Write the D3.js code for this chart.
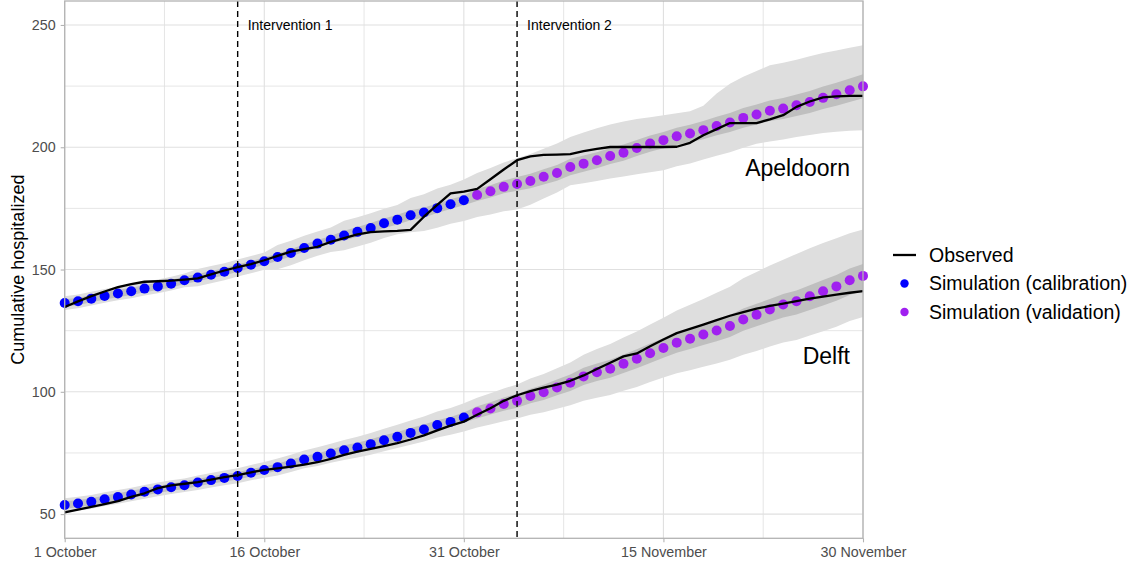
<!DOCTYPE html>
<html>
<head>
<meta charset="utf-8">
<script src="https://cdn.jsdelivr.net/npm/d3@7"></script>
<style>
  body { margin: 0; background: #fff; }
  svg text { font-family: "Liberation Sans", Arial, Helvetica, sans-serif; }
</style>
</head>
<body>
<svg id="chart" width="1141" height="567"></svg>
<script>
// ---- Data: daily values, 1 October .. 30 November 2020 ----
const firstDay = new Date(2020, 9, 1);
const lastDay = new Date(2020, 10, 30);
const calibrationEnd = new Date(2020, 9, 31);
const interventions = [
  { date: new Date(2020, 9, 14), label: "Intervention 1" },
  { date: new Date(2020, 10, 4), label: "Intervention 2" }
];
const xTickDates = [new Date(2020, 9, 1), new Date(2020, 9, 16), new Date(2020, 9, 31), new Date(2020, 10, 15), new Date(2020, 10, 30)];
const xTickLabels = ["1 October", "16 October", "31 October", "15 November", "30 November"];
const yTicks = [50, 100, 150, 200, 250];
const yMinorTicks = [75, 125, 175, 225];
const yDomain = [40.1, 259.8];

// Apeldoorn
const apeldoornObserved = [134.7, 137, 139.1, 141, 142.8, 144, 145, 145.2, 145.5, 145.9,
  146.4, 148, 149.6, 151, 152.2, 153.8, 155.6, 157.3, 158.3, 159.3,
  161.3, 162.8, 164.4, 165.3, 165.6, 165.8, 166.2, 171.6, 176.4, 181.1,
  181.9, 183, 186.9, 190.9, 194.7, 196.3, 196.9, 197, 197.2, 198.4,
  199.3, 200.1, 200.1, 200.1, 200.1, 200.1, 200.2, 201.8, 204.9, 207.4,
  209.9, 209.9, 209.9, 211.4, 213.1, 216.5, 218.7, 220.4, 220.8, 221, 221];
const apeldoornSim = [136.3, 137, 138.1, 139.2, 140.2, 141.1, 142.2, 143.1, 144.2, 145.6,
  146.7, 147.9, 149.1, 150.6, 152, 153.4, 155.1, 156.8, 158.8, 160.6,
  162.2, 163.9, 165.4, 167, 168.9, 170.4, 172.2, 173.3, 175.1, 176.7,
  178.3, 180.5, 182, 183.8, 185, 186.2, 187.9, 189.5, 191.9, 193.3,
  194.7, 196.4, 197.8, 199.7, 201.5, 202.9, 204.5, 205.6, 207, 208.7,
  210.1, 212, 213.4, 214.9, 215.8, 217.2, 218.5, 220.2, 221.7, 223.3, 224.9];
const apeldoornOuterHi = [139.1, 139.8, 140.9, 142, 143, 143.9, 145, 145.9, 147, 148.4,
  150.2, 151.4, 152.6, 154.1, 155.5, 157, 160, 161.8, 163.8, 165.6,
  167.2, 169.9, 171.4, 173, 174.9, 176.4, 179.2, 180.8, 183.1, 184.7,
  186.8, 189.5, 191.5, 193.8, 195.5, 197.2, 199.4, 201.5, 204.2, 206,
  207.8, 209.3, 210.5, 211.5, 212.3, 213.1, 213.9, 214.7, 217, 222,
  226, 228.8, 231.2, 233.5, 234.6, 235.8, 237.2, 238.5, 239.6, 240.7, 241.7];
const apeldoornOuterLo = [133.5, 134.2, 135.3, 136.4, 137.4, 138.3, 139.4, 140.3, 141.4, 142.8,
  143.2, 144.4, 145.6, 147.1, 148.5, 149.9, 150.1, 151.8, 153.8, 155.6,
  157.2, 157.9, 159.4, 161, 162.9, 164.4, 165.2, 165.8, 167.1, 168.7,
  169.8, 171.5, 172.5, 173.8, 174.5, 176.5, 179, 181.5, 184.5, 185.3,
  186.2, 187.2, 188, 189, 189.8, 190.6, 192.2, 193.4, 195, 196.5,
  198, 199.8, 201.4, 202.4, 203.2, 204.2, 205, 205.8, 206.3, 206.7, 207];
const apeldoornInnerHi = [137.8, 138.5, 139.6, 140.7, 141.7, 142.6, 143.7, 144.6, 145.7, 147.1,
  148.2, 149.4, 150.6, 152.1, 153.5, 154.9, 156.6, 158.3, 160.3, 162.1,
  163.7, 165.9, 167.4, 169, 170.9, 172.4, 174.2, 175.3, 177.1, 178.7,
  180.3, 183, 184.5, 186.4, 187.8, 189.2, 191, 192.7, 195.3, 196.6,
  198, 199.7, 201.1, 203, 204.8, 206.2, 208, 209.2, 210.7, 212.5,
  214, 216, 217.5, 219.1, 220.1, 221.6, 223, 224.8, 226.4, 228.1, 229.8];
const apeldoornInnerLo = [134.8, 135.5, 136.6, 137.7, 138.7, 139.6, 140.7, 141.6, 142.7, 144.1,
  145.2, 146.4, 147.6, 149.1, 150.5, 151.9, 153.6, 155.3, 157.3, 159.1,
  160.7, 161.9, 163.4, 165, 166.9, 168.4, 170.2, 171.3, 173.1, 174.7,
  176.3, 178, 179.5, 181.2, 182.2, 183.2, 184.8, 186.3, 188.5, 190,
  191.4, 193.1, 194.5, 196.4, 198.2, 199.6, 201, 202, 203.3, 204.9,
  206.2, 208, 209.3, 210.7, 211.5, 212.8, 214, 215.6, 217, 218.5, 220];

// Delft
const delftObserved = [50.7, 51.8, 52.9, 54.1, 55.3, 57, 58.5, 60.6, 61.7, 62.4,
  63.1, 64.1, 65.1, 65.9, 67.1, 68.1, 68.7, 69.4, 70.2, 71.2,
  72.6, 74.2, 75.5, 76.7, 77.8, 79, 80.5, 82.2, 84.2, 86.2,
  87.8, 90.6, 93.3, 96.3, 98.6, 100.3, 101.7, 102.9, 104.5, 106.7,
  109.3, 111.9, 114.5, 115.7, 118.6, 121.4, 124, 125.7, 127.5, 129.3,
  131.1, 132.6, 134, 135.1, 136.1, 137.1, 138.1, 138.9, 139.7, 140.5, 141.2];
const delftSim = [53.7, 54.3, 55, 56.1, 57, 58, 59.1, 60.1, 61, 61.8,
  62.9, 63.9, 64.8, 65.6, 66.9, 68, 69.2, 70.7, 72.3, 73.4,
  74.8, 76.1, 77.2, 78.6, 80.2, 81.6, 83.2, 84.6, 86.4, 87.7,
  89.5, 91.6, 93.2, 95, 96.3, 98.3, 99.8, 101.8, 103.7, 106.3,
  108, 109.4, 111.5, 113.5, 115.8, 117.9, 120.1, 121.7, 123.4, 125.1,
  126.9, 129.6, 131.5, 133.7, 135.7, 137, 139.1, 141.1, 143.1, 145.6, 147.4];
const delftOuterHi = [56.5, 57.1, 57.8, 58.9, 59.8, 60.8, 61.9, 62.9, 63.8, 64.6,
  65.8, 66.8, 67.8, 68.7, 70.1, 71.3, 72.7, 74.3, 76, 77.3,
  78.8, 80.3, 81.6, 83.2, 84.9, 86.5, 88.3, 89.9, 91.9, 93.4,
  95.3, 97.6, 99.4, 101.4, 103, 105.4, 107.3, 109.6, 112, 115.2,
  117.5, 119.5, 122.2, 124.7, 127.5, 130.3, 133.2, 135.6, 138, 140.5,
  143, 146.4, 149, 151.6, 154, 156.4, 158.7, 160.8, 162.8, 164.8, 166.4];
const delftOuterLo = [50.9, 51.5, 52.2, 53.3, 54.2, 55.2, 56.3, 57.3, 58.2, 59,
  59.9, 60.9, 61.8, 62.6, 63.8, 64.9, 65.8, 67.2, 68.7, 69.7,
  71, 72.1, 73.1, 74.3, 75.7, 77, 78.4, 79.7, 81.3, 82.4,
  83.8, 85.4, 86.6, 88, 89.1, 90.6, 91.6, 93.1, 94.5, 96.3,
  97.6, 98.7, 100.4, 102, 104, 105.9, 107.6, 108.8, 110.2, 111.6,
  113.1, 115.2, 116.7, 118.5, 120.2, 121.2, 123, 124.8, 126.6, 129, 130.6];
const delftInnerHi = [55.2, 55.8, 56.5, 57.6, 58.5, 59.5, 60.6, 61.6, 62.5, 63.3,
  64.4, 65.4, 66.3, 67.1, 68.4, 69.5, 70.7, 72.2, 73.8, 74.9,
  76.3, 78.1, 79.2, 80.6, 82.2, 83.6, 85.2, 86.6, 88.4, 89.7,
  91.5, 94.1, 95.7, 97.7, 99.1, 101.3, 102.9, 105, 107.1, 109.8,
  111.6, 113.1, 115.3, 117.4, 119.8, 121.9, 124.2, 125.9, 127.7, 129.5,
  131.4, 134.1, 136, 137.9, 140, 141.4, 143.6, 145.7, 147.8, 150.4, 152.3];
const delftInnerLo = [52.2, 52.8, 53.5, 54.6, 55.5, 56.5, 57.6, 58.6, 59.5, 60.3,
  61.4, 62.4, 63.3, 64.1, 65.4, 66.5, 67.7, 69.2, 70.8, 71.9,
  73.3, 74.1, 75.2, 76.6, 78.2, 79.6, 81.2, 82.6, 84.4, 85.7,
  87.5, 89.1, 90.7, 92.3, 93.5, 95.3, 96.7, 98.6, 100.3, 102.8,
  104.4, 105.7, 107.7, 109.6, 111.8, 113.9, 116, 117.5, 119.1, 120.7,
  122.4, 125, 126.8, 128.6, 130.4, 131.6, 133.5, 135.3, 137.2, 139.6, 141.3];

const cities = [
  { name: "Apeldoorn", observed: apeldoornObserved, sim: apeldoornSim,
    outerLo: apeldoornOuterLo, outerHi: apeldoornOuterHi, innerLo: apeldoornInnerLo, innerHi: apeldoornInnerHi,
    labelValue: 191.4 },
  { name: "Delft", observed: delftObserved, sim: delftSim,
    outerLo: delftOuterLo, outerHi: delftOuterHi, innerLo: delftInnerLo, innerHi: delftInnerHi,
    labelValue: 114.6 }
];

const legendItems = [
  { label: "Observed", type: "line", color: "#000000" },
  { label: "Simulation (calibration)", type: "point", color: "#0000ff" },
  { label: "Simulation (validation)", type: "point", color: "#a020f0" }
];

// ---- Layout ----
const panel = { left: 64.7, right: 863, top: 1, bottom: 538.3 };
const days = d3.timeDay.range(firstDay, d3.timeDay.offset(lastDay, 1));

const x = d3.scaleTime().domain([firstDay, lastDay]).range([panel.left, panel.right]);
const y = d3.scaleLinear().domain(yDomain).range([panel.bottom, panel.top]);

const svg = d3.select("#chart");
const gridColor = "#e0e0e0";
const frameColor = "#b3b3b3";

// grid: minor then major
const xMinor = xTickDates.slice(0, -1).map((d, i) => new Date((+d + +xTickDates[i + 1]) / 2));
const grid = svg.append("g");
grid.selectAll(".ymin").data(yMinorTicks).join("line")
  .attr("x1", panel.left).attr("x2", panel.right)
  .attr("y1", d => y(d)).attr("y2", d => y(d))
  .attr("stroke", gridColor).attr("stroke-width", 0.8);
grid.selectAll(".xmin").data(xMinor).join("line")
  .attr("y1", panel.top).attr("y2", panel.bottom)
  .attr("x1", d => x(d)).attr("x2", d => x(d))
  .attr("stroke", gridColor).attr("stroke-width", 0.8);
grid.selectAll(".ymaj").data(yTicks).join("line")
  .attr("x1", panel.left).attr("x2", panel.right)
  .attr("y1", d => y(d)).attr("y2", d => y(d))
  .attr("stroke", gridColor).attr("stroke-width", 1.1);
grid.selectAll(".xmaj").data(xTickDates).join("line")
  .attr("y1", panel.top).attr("y2", panel.bottom)
  .attr("x1", d => x(d)).attr("x2", d => x(d))
  .attr("stroke", gridColor).attr("stroke-width", 1.1);

// uncertainty ribbons
const area = (lo, hi) => d3.area()
  .x((d, i) => x(days[i]))
  .y0((d, i) => y(lo[i]))
  .y1((d, i) => y(hi[i]))(days);

const ribbons = svg.append("g");
cities.forEach(c => {
  ribbons.append("path").attr("d", area(c.outerLo, c.outerHi)).attr("fill", "#dedede");
});
cities.forEach(c => {
  ribbons.append("path").attr("d", area(c.innerLo, c.innerHi)).attr("fill", "#bfbfbf");
});

// simulated points
const pts = svg.append("g");
cities.forEach(c => {
  pts.append("g").selectAll("circle").data(days).join("circle")
    .attr("cx", d => x(d))
    .attr("cy", (d, i) => y(c.sim[i]))
    .attr("r", 5)
    .attr("fill", d => d <= calibrationEnd ? legendItems[1].color : legendItems[2].color);
});

// observed lines
const line = vals => d3.line().x((d, i) => x(days[i])).y((d, i) => y(vals[i]))(days);
cities.forEach(c => {
  svg.append("path").attr("d", line(c.observed))
    .attr("fill", "none").attr("stroke", "#000").attr("stroke-width", 2.3)
    .attr("stroke-linejoin", "round");
});

// intervention markers
interventions.forEach(iv => {
  svg.append("line")
    .attr("x1", x(iv.date)).attr("x2", x(iv.date))
    .attr("y1", panel.top).attr("y2", panel.bottom)
    .attr("stroke", "#000").attr("stroke-width", 1.4)
    .attr("stroke-dasharray", "6,4");
  svg.append("text")
    .attr("x", x(iv.date) + 10).attr("y", y(250))
    .attr("dy", "0.35em")
    .attr("font-size", 14).attr("fill", "#000")
    .text(iv.label);
});

// city labels
cities.forEach(c => {
  svg.append("text")
    .attr("x", 850).attr("y", y(c.labelValue))
    .attr("dy", "0.35em")
    .attr("text-anchor", "end")
    .attr("font-size", 23).attr("fill", "#000")
    .text(c.name);
});

// panel frame
svg.append("rect")
  .attr("x", panel.left).attr("y", panel.top)
  .attr("width", panel.right - panel.left).attr("height", panel.bottom - panel.top)
  .attr("fill", "none").attr("stroke", frameColor).attr("stroke-width", 1.3);

// axes
const xAxis = d3.axisBottom(x).tickValues(xTickDates)
  .tickFormat((d, i) => xTickLabels[i]).tickSize(4).tickPadding(5);
const gx = svg.append("g").attr("transform", `translate(0,${panel.bottom})`).call(xAxis);
gx.select(".domain").remove();
gx.selectAll(".tick line").attr("stroke", frameColor).attr("stroke-width", 1.1);
gx.selectAll(".tick text").attr("font-size", 14.3).attr("fill", "#4d4d4d")
  .attr("font-family", '"Liberation Sans", Arial, sans-serif');

const yAxis = d3.axisLeft(y).tickValues(yTicks).tickSize(4).tickPadding(5);
const gy = svg.append("g").attr("transform", `translate(${panel.left},0)`).call(yAxis);
gy.select(".domain").remove();
gy.selectAll(".tick line").attr("stroke", frameColor).attr("stroke-width", 1.1);
gy.selectAll(".tick text").attr("font-size", 14.3).attr("fill", "#4d4d4d")
  .attr("font-family", '"Liberation Sans", Arial, sans-serif');

// y title
svg.append("text")
  .attr("transform", `translate(24,${(panel.top + panel.bottom) / 2}) rotate(-90)`)
  .attr("text-anchor", "middle")
  .attr("font-size", 18).attr("fill", "#000")
  .text("Cumulative hospitalized");

// legend
const legend = svg.append("g").attr("transform", "translate(893,255)");
legendItems.forEach((item, i) => {
  const row = legend.append("g").attr("transform", `translate(0,${i * 28.5})`);
  if (item.type === "line") {
    row.append("line").attr("x1", 0).attr("x2", 23).attr("y1", 0).attr("y2", 0)
      .attr("stroke", item.color).attr("stroke-width", 2.3);
  } else {
    row.append("circle").attr("cx", 11.5).attr("cy", 0).attr("r", 4.2).attr("fill", item.color);
  }
  row.append("text").attr("x", 36).attr("y", 0).attr("dy", "0.35em")
    .attr("font-size", 19.5).attr("fill", "#000")
    .text(item.label);
});
</script>
</body>
</html>
